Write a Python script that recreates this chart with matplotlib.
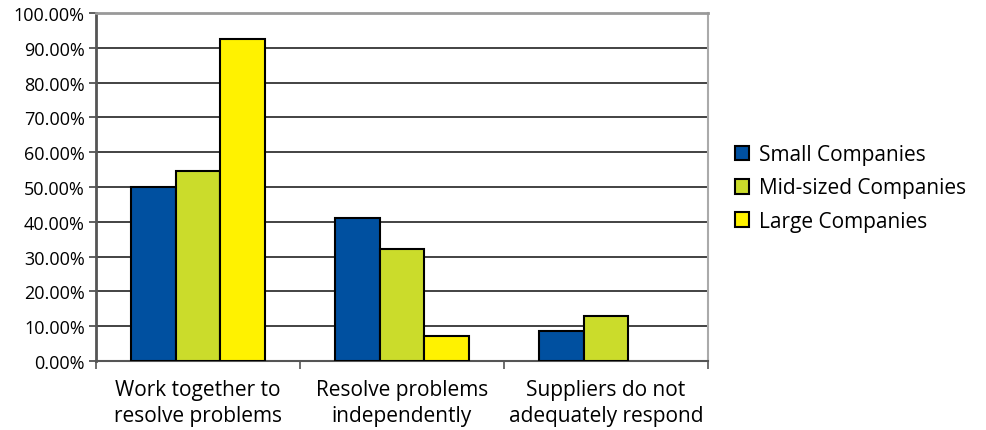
import matplotlib
matplotlib.use("Agg")
import matplotlib.pyplot as plt
import numpy as np

categories = ["Work together to\nresolve problems", "Resolve problems\nindependently", "Suppliers do not\nadequately respond"]
series_names = ["Small Companies", "Mid-sized Companies", "Large Companies"]
small = [50.0, 41.1, 8.7]
mid = [54.6, 32.2, 12.8]
large = [92.5, 7.3, 0.0]
colors = ["#0050a0", "#cbdc2b", "#fff200"]
yticks = [0, 10, 20, 30, 40, 50, 60, 70, 80, 90, 100]

plt.rcParams['font.family'] = ['Open Sans', 'DejaVu Sans']

fig = plt.figure(figsize=(9.87, 4.31), dpi=100)
ax = fig.add_axes([96/987, 1-362/431, 612/987, 348/431])

x = np.arange(len(categories))
w = 0.22
for i, (vals, name, c) in enumerate(zip([small, mid, large], series_names, colors)):
    lws = [1.5 if v > 0 else 0 for v in vals]
    ax.bar(x + (i-1)*w, vals, w, color=c, edgecolor="black", linewidth=lws, label=name, zorder=3)

ax.set_xlim(-0.5, 2.5)
ax.set_ylim(0, 100)
ax.set_yticks(yticks)
ax.set_yticklabels([f"{v:.2f}%" for v in yticks], fontsize=13)
ax.yaxis.grid(True, color="#222222", linewidth=1.2, zorder=0)
ax.set_xticks(x)
ax.set_xticklabels(categories, fontsize=15, linespacing=1.3)
ax.tick_params(axis="x", length=0, pad=13)
ax.set_xticks([-0.5, 0.5, 1.5, 2.5], minor=True)
ax.tick_params(axis="x", which="minor", length=6, color="#555555", width=1.2)
ax.tick_params(axis="y", length=5, color="#444444", width=1.2, pad=3)
ax.spines["left"].set_color("#555555")
ax.spines["left"].set_linewidth(2)
ax.spines["bottom"].set_color("#555555")
ax.spines["bottom"].set_linewidth(1.5)
ax.spines["top"].set_color("#999999")
ax.spines["top"].set_linewidth(2)
ax.spines["right"].set_color("#aaaaaa")
ax.spines["right"].set_linewidth(1.5)

handles, labels = ax.get_legend_handles_labels()
leg = fig.legend(handles, labels, loc="center left", bbox_to_anchor=(716/987, 1-189/431), frameon=False,
                 fontsize=15, handlelength=0.7, handleheight=0.7, handletextpad=0.45,
                 labelspacing=0.58)
for h in leg.legend_handles:
    h.set_linewidth(1.5)
fig.savefig("out.png", dpi=100)
